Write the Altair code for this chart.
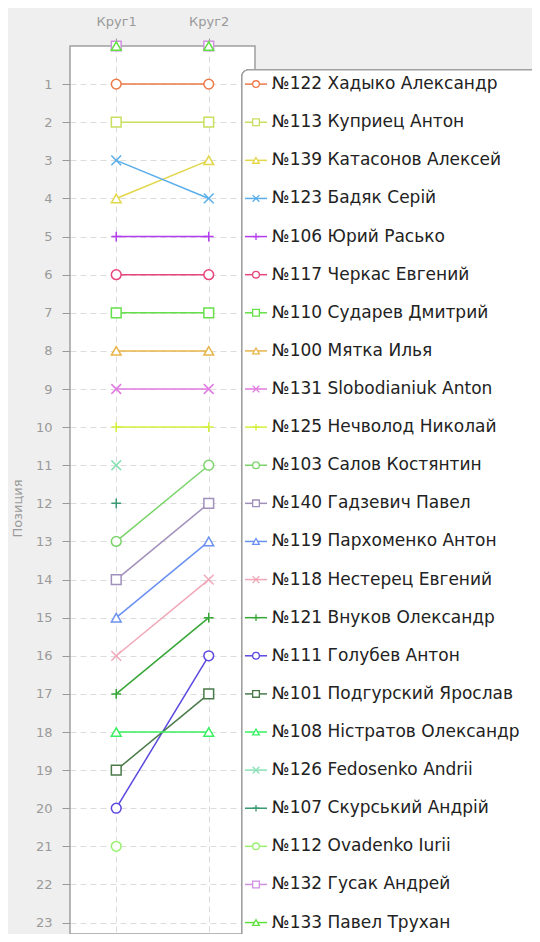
import altair as alt
import pandas as pd

rounds = ["Круг1", "Круг2"]

players = [
    "№122 Хадыко Александр", "№113 Куприец Антон", "№139 Катасонов Алексей",
    "№123 Бадяк Серій", "№106 Юрий Расько", "№117 Черкас Евгений",
    "№110 Сударев Дмитрий", "№100 Мятка Илья", "№131 Slobodianiuk Anton",
    "№125 Нечволод Николай", "№103 Салов Костянтин", "№140 Гадзевич Павел",
    "№119 Пархоменко Антон", "№118 Нестерец Евгений", "№121 Внуков Олександр",
    "№111 Голубев Антон", "№101 Подгурский Ярослав", "№108 Ністратов Олександр",
    "№126 Fedosenko Andrii", "№107 Скурський Андрій", "№112 Ovadenko Iurii",
    "№132 Гусак Андрей", "№133 Павел Трухан",
]

round1 = [1, 2, 4, 3, 5, 6, 7, 8, 9, 10, 13, 14, 15, 16, 17, 20, 19, 18, 11, 12, 21, 0, 0]
round2 = [1, 2, 3, 4, 5, 6, 7, 8, 9, 10, 11, 12, 13, 14, 15, 16, 17, 18, None, None, None, 0, 0]

colors = [
    "#ec7a48", "#c8e05e", "#e2d64a", "#5aaeea", "#b43cf0", "#e8457a",
    "#66e04a", "#e8b44a", "#e07ae0", "#d4f03a", "#7ad46a", "#a090bb",
    "#6a90f0", "#f0a8b8", "#36a636", "#5a48e0", "#4a7a4a", "#38f060",
    "#8ae0b4", "#3a9a74", "#98f070", "#d090e0", "#60e040",
]

X_SHAPE = "M-1,-1L1,1M1,-1L-1,1"
PLUS_SHAPE = "M-1,0L1,0M0,-1L0,1"
shape_cycle = ["circle", "square", "triangle-up", X_SHAPE, PLUS_SHAPE]
shapes = [shape_cycle[i % 5] for i in range(len(players))]

legend_rows = list(range(1, len(players) + 1))
y_ticks = list(range(1, 24))

rows = []
for i, name in enumerate(players):
    for r, v in zip(rounds, (round1[i], round2[i])):
        if v is not None:
            rows.append({"name": name, "round": r, "pos": v, "order": i})
df = pd.DataFrame(rows)
leg = pd.DataFrame({"name": players, "pos": legend_rows})

color_scale = alt.Scale(domain=players, range=colors)
shape_scale = alt.Scale(domain=players, range=shapes)

y_enc = alt.Y(
    "pos:Q",
    title="Позиция",
    scale=alt.Scale(domain=[0, 23.3], reverse=True, nice=False, zero=False),
    axis=alt.Axis(values=y_ticks, grid=True, gridDash=[6, 4], gridColor="#dcdcdc",
                  tickSize=8, tickColor="#999999", labelPadding=10, domain=False,
                  labelColor="#9a9a9a", labelFontSize=13, titleColor="#9a9a9a",
                  titleFontSize=13, titleFontWeight="normal", titleX=-46, titleY=462,
                  labelFont="DejaVu Sans", titleFont="DejaVu Sans"),
)
x_enc = alt.X(
    "round:N",
    title=None,
    sort=rounds,
    scale=alt.Scale(domain=rounds, type="point", padding=0.5),
    axis=alt.Axis(orient="top", labelAngle=0, grid=True, gridDash=[6, 4],
                  gridColor="#dcdcdc", tickSize=8, tickColor="#999999",
                  labelPadding=10, domain=False, labelColor="#9a9a9a",
                  labelFontSize=13, labelFont="DejaVu Sans"),
)

lines = alt.Chart(df).transform_filter("datum.pos > 0").mark_line(strokeWidth=1.5).encode(
    x=x_enc, y=y_enc,
    color=alt.Color("name:N", scale=color_scale, legend=None),
    detail="name:N",
)
points = alt.Chart(df).mark_point(filled=False, fill="white", opacity=1, size=95, strokeWidth=1.5).encode(
    x=x_enc, y=y_enc,
    color=alt.Color("name:N", scale=color_scale, legend=None),
    shape=alt.Shape("name:N", scale=shape_scale, legend=None),
    order="order:Q",
)

box = alt.Chart(leg).mark_rect(fill="white", stroke="#a0a0a0", strokeWidth=1.2, cornerRadius=6).encode(
    x=alt.value(172), x2=alt.value(520), y=alt.value(24), y2=alt.value(1000),
)
leg_lines = alt.Chart(leg).mark_rule(strokeWidth=1.5).encode(
    x=alt.value(175), x2=alt.value(197), y=alt.Y("pos:Q"),
    color=alt.Color("name:N", scale=color_scale, legend=None),
)
leg_points = alt.Chart(leg).mark_point(filled=False, fill="white", opacity=1, size=45, strokeWidth=1.3).encode(
    x=alt.value(186), y=alt.Y("pos:Q"),
    color=alt.Color("name:N", scale=color_scale, legend=None),
    shape=alt.Shape("name:N", scale=shape_scale, legend=None),
)
leg_text = alt.Chart(leg).mark_text(align="left", baseline="middle", fontSize=17,
                                   font="DejaVu Sans", color="#222222").encode(
    x=alt.value(202), y=alt.Y("pos:Q"), text="name:N",
)

chart = alt.layer(lines, points, box, leg_lines, leg_points, leg_text).properties(
    width=185, height=888,
    autosize=alt.AutoSizeParams(type="none"),
    padding={"left": 62, "top": 38, "right": 277, "bottom": 0},
    background="#efefef",
).configure_view(fill="white", stroke="#a0a0a0", strokeWidth=1.5)

chart.save("out.html", embed_options={"renderer": "svg", "actions": False})
